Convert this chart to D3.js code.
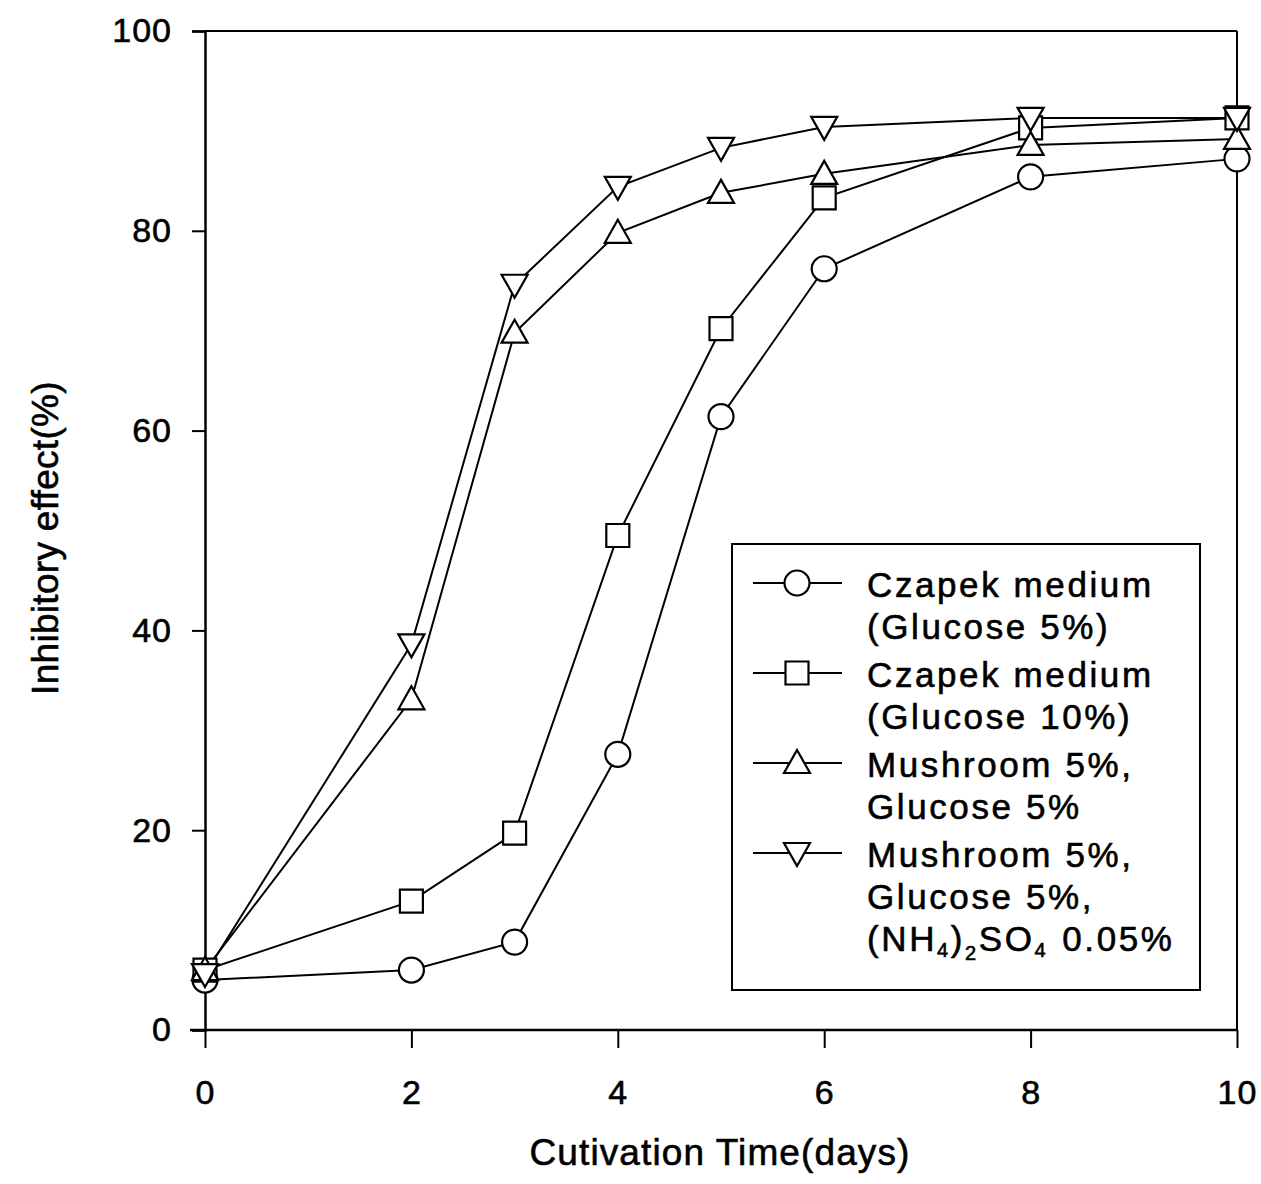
<!DOCTYPE html>
<html>
<head>
<meta charset="utf-8">
<script src="https://cdn.jsdelivr.net/npm/d3@7"></script>
<style>
  html, body { margin: 0; padding: 0; background: #fff; }
  svg text { font-family: "Liberation Sans", Arial, Helvetica, sans-serif; fill: #000; stroke: #000; stroke-width: 0.6px; }
</style>
</head>
<body>
<svg id="chart" width="1261" height="1184"></svg>
<script>
// ---- data ----
const days = [0, 2, 3, 4, 5, 6, 8, 10];
const czapek5 = [5, 6, 8.8, 27.6, 61.4, 76.2, 85.4, 87.2];
const czapek10 = [6, 12.9, 19.7, 49.5, 70.2, 83.3, 90.3, 91.3];
const mushroom = [6, 33.1, 69.8, 79.8, 83.8, 85.7, 88.6, 89.2];
const mushroomNH4 = [5.6, 38.6, 74.6, 84.4, 88.3, 90.4, 91.3, 91.3];
const xTicks = [0, 2, 4, 6, 8, 10];
const yTicks = [0, 20, 40, 60, 80, 100];
const seriesNames = [
  ["Czapek medium", "(Glucose 5%)"],
  ["Czapek medium", "(Glucose 10%)"],
  ["Mushroom 5%,", "Glucose 5%"],
  ["Mushroom 5%,", "Glucose 5%,", "NH4"]
];
const xLabel = "Cutivation Time(days)";
const yLabel = "Inhibitory effect(%)";

// ---- layout ----
const svg = d3.select("#chart");
const L = 205, R = 1237, T = 31, B = 1030;
const x = d3.scaleLinear().domain([0, 10]).range([L, R]);
const y = d3.scaleLinear().domain([0, 100]).range([B, T]);

const series = [
  { vals: czapek5, sym: "circle" },
  { vals: czapek10, sym: "square" },
  { vals: mushroom, sym: "up" },
  { vals: mushroomNH4, sym: "down" }
];

// frame
svg.append("line").attr("x1", L).attr("x2", R).attr("y1", T).attr("y2", T)
  .attr("stroke", "#000").attr("stroke-width", 2);
svg.append("line").attr("x1", R).attr("x2", R).attr("y1", T).attr("y2", B)
  .attr("stroke", "#000").attr("stroke-width", 2);

// axes
const xAxis = d3.axisBottom(x).tickValues(xTicks).tickSize(18).tickPadding(32).tickFormat(d3.format("d"));
const gx = svg.append("g").attr("transform", `translate(0,${B})`).call(xAxis);
const yAxis = d3.axisLeft(y).tickValues(yTicks).tickSize(13).tickPadding(20).tickFormat(d3.format("d"));
const gy = svg.append("g").attr("transform", `translate(${L},0)`).call(yAxis);
[gx, gy].forEach(g => {
  g.select(".domain").attr("stroke", "#000").attr("stroke-width", 2.5);
  g.selectAll(".tick line").attr("stroke", "#000").attr("stroke-width", 2);
  g.selectAll(".tick text").attr("font-family", "Liberation Sans, Arial, sans-serif")
    .attr("font-size", 34).attr("fill", "#000").style("letter-spacing", "1px");
});
gx.select(".domain").attr("d", `M${L - 15},0H${R}`);

// axis titles
svg.append("text").attr("x", 720).attr("y", 1165).attr("text-anchor", "middle")
  .attr("font-size", 37).style("letter-spacing", "1.1px").text(xLabel);
svg.append("text").attr("transform", "translate(58,538) rotate(-90)").attr("text-anchor", "middle")
  .attr("font-size", 37).style("letter-spacing", "0.3px").text(yLabel);

// symbols
function drawSym(g, sym, cx, cy) {
  const s = g.append("path").attr("fill", "#fff").attr("stroke", "#000").attr("stroke-width", 2.2);
  if (sym === "circle") {
    s.attr("d", d3.symbol().type(d3.symbolCircle).size(Math.PI * 12.5 * 12.5)());
  } else if (sym === "square") {
    s.attr("d", `M-11.5,-11.5H11.5V11.5H-11.5Z`);
  } else if (sym === "up") {
    s.attr("d", `M0,-13L13,10H-13Z`);
  } else {
    s.attr("d", `M0,13L13,-10H-13Z`);
  }
  s.attr("transform", `translate(${cx},${cy})`);
}

const line = d3.line().x((d, i) => x(days[i])).y(d => y(d));
series.forEach(s => {
  svg.append("path").datum(s.vals).attr("d", line).attr("fill", "none")
    .attr("stroke", "#000").attr("stroke-width", 2);
});
series.forEach(s => {
  const g = svg.append("g");
  s.vals.forEach((v, i) => drawSym(g, s.sym, x(days[i]), y(v)));
});

// legend
const lg = svg.append("g");
lg.append("rect").attr("x", 732).attr("y", 544).attr("width", 468).attr("height", 446)
  .attr("fill", "#fff").attr("stroke", "#000").attr("stroke-width", 2);
const baseY = [597, 687, 777, 867];
const fs = 35;
series.forEach((s, i) => {
  const my = baseY[i] - 14;
  lg.append("line").attr("x1", 753).attr("x2", 842).attr("y1", my).attr("y2", my)
    .attr("stroke", "#000").attr("stroke-width", 2);
  drawSym(lg, s.sym, 797, my);
  const names = seriesNames[i];
  names.forEach((n, j) => {
    const t = lg.append("text").attr("x", 867).attr("y", baseY[i] + j * 42)
      .attr("font-size", fs).style("letter-spacing", "2.6px");
    if (n === "NH4") {
      t.append("tspan").text("(NH");
      t.append("tspan").attr("font-size", 20).attr("dy", 6).text("4");
      t.append("tspan").attr("dy", -6).text(")");
      t.append("tspan").attr("font-size", 20).attr("dy", 9).text("2");
      t.append("tspan").attr("dy", -9).text("SO");
      t.append("tspan").attr("font-size", 20).attr("dy", 6).text("4");
      t.append("tspan").attr("dy", -6).attr("dx", 14).text("0.05%");
    } else {
      t.text(n);
    }
  });
});
</script>
</body>
</html>
